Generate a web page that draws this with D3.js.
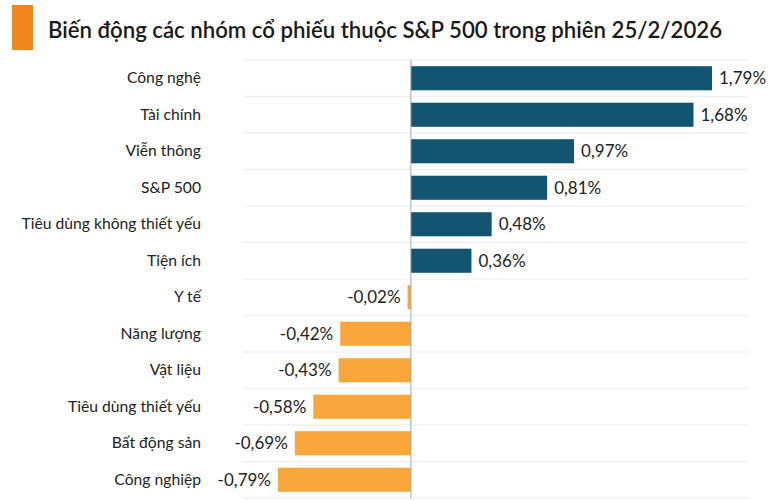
<!DOCTYPE html>
<html>
<head>
<meta charset="utf-8">
<script src="https://cdn.jsdelivr.net/npm/d3@7"></script>
<style>
  body { margin: 0; background: #fff; }
  svg { display: block; font-family: Lato, "Noto Sans", sans-serif; }
</style>
</head>
<body>
<svg id="chart" width="776" height="501"></svg>
<script>
// --- Data
var categories = ['Công nghệ', 'Tài chính', 'Viễn thông', 'S&P 500', 'Tiêu dùng không thiết yếu',
  'Tiện ích', 'Y tế', 'Năng lượng', 'Vật liệu', 'Tiêu dùng thiết yếu', 'Bất động sản', 'Công nghiệp'];
var values = [1.79, 1.68, 0.97, 0.81, 0.48, 0.36, -0.02, -0.42, -0.43, -0.58, -0.69, -0.79];
var valueLabels = ['1,79%', '1,68%', '0,97%', '0,81%', '0,48%', '0,36%', '-0,02%', '-0,42%', '-0,43%', '-0,58%', '-0,69%', '-0,79%'];

var title = 'Biến động các nhóm cổ phiếu thuộc S&P 500 trong phiên 25/2/2026';

var svg = d3.select('#chart');

// --- Title
svg.append('rect')
  .attr('x', 12).attr('y', 5).attr('width', 21).attr('height', 45)
  .attr('fill', '#f3871f');
svg.append('text')
  .attr('x', 48).attr('y', 38)
  .attr('font-size', 22.2)
  .attr('font-weight', 600)
  .attr('fill', '#1a1a1a')
  .text(title);

// --- Scales
var x = d3.scaleLinear().domain([-0.79, 1.79]).range([278, 712]);
var y = d3.scaleBand().domain(categories).range([60, 498]).paddingInner(0.34).paddingOuter(0.17);
var step = y.step();

// --- Row separators
var seps = d3.range(categories.length + 1);
svg.selectAll('.sep').data(seps).enter()
  .append('line')
  .attr('class', 'sep')
  .attr('x1', 243).attr('x2', 748)
  .attr('y1', function(d) { return 60 + d * step; })
  .attr('y2', function(d) { return 60 + d * step; })
  .attr('stroke', '#f0f0f0')
  .attr('stroke-width', 1.5);

// --- Bars
svg.selectAll('.bar').data(values).enter()
  .append('rect')
  .attr('class', 'bar')
  .attr('x', function(d) { return x(Math.min(0, d)); })
  .attr('y', function(d, i) { return y(categories[i]); })
  .attr('width', function(d) { return Math.abs(x(d) - x(0)); })
  .attr('height', y.bandwidth())
  .attr('fill', function(d) { return d >= 0 ? '#135571' : '#f9a73b'; });

// --- Zero axis
svg.append('line')
  .attr('x1', x(0)).attr('x2', x(0))
  .attr('y1', 60).attr('y2', 498)
  .attr('stroke', '#9aa5ad').attr('stroke-width', 1);

// --- Category labels
var yAxis = d3.axisLeft(y).tickSize(0).tickPadding(0);
var ax = svg.append('g').attr('transform', 'translate(201,0)').call(yAxis);
ax.select('.domain').remove();
ax.selectAll('text')
  .attr('font-family', 'Lato, "Noto Sans", sans-serif')
  .attr('font-size', 15.7)
  .attr('fill', '#222');

// --- Value labels
svg.selectAll('.val').data(values).enter()
  .append('text')
  .attr('class', 'val')
  .attr('x', function(d) { return d >= 0 ? x(d) + 7 : x(d) - 7; })
  .attr('y', function(d, i) { return y(categories[i]) + y.bandwidth() / 2; })
  .attr('dy', '0.35em')
  .attr('text-anchor', function(d) { return d >= 0 ? 'start' : 'end'; })
  .attr('font-size', 17)
  .attr('fill', '#222')
  .text(function(d, i) { return valueLabels[i]; });
</script>
</body>
</html>
